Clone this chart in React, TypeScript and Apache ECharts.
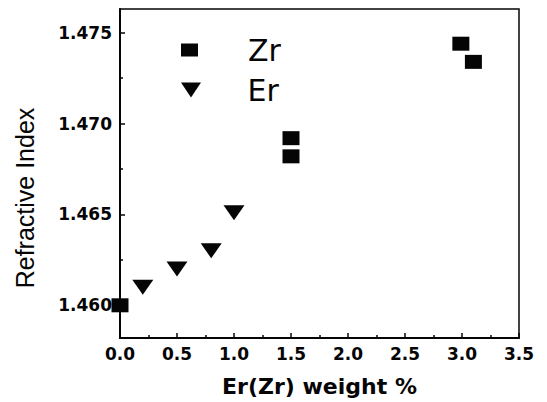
import React, { useEffect, useRef } from "react";
import * as echarts from "echarts";

const zrData: number[][] = [
  [0.0, 1.46],
  [1.5, 1.4692],
  [1.5, 1.4682],
  [2.99, 1.4744],
  [3.1, 1.4734],
];
const erData: number[][] = [
  [0.2, 1.461],
  [0.5, 1.462],
  [0.8, 1.463],
  [1.0, 1.4651],
];
const yMajorTicks = [1.46, 1.465, 1.47, 1.475];
const yMinorTicks = [1.4625, 1.4675, 1.4725];
const seriesNames = ["Zr", "Er"];
const xName = "Er(Zr) weight %";
const yName = "Refractive Index";

const TRI = "path://M0,0L20,0L10,15Z";

export default function App() {
  const ref = useRef<HTMLDivElement>(null);
  useEffect(() => {
    if (!ref.current) return;
    const chart = echarts.init(ref.current, null, { renderer: "svg" });
    const ink = "#050505";
    const tickFont = { fontFamily: "DejaVu Sans", fontWeight: "bold" as const, fontSize: 17, color: ink };
    chart.setOption({
      animation: false,
      backgroundColor: "#fff",
      grid: {
        left: 120,
        right: 28,
        top: 9,
        bottom: 61,
        show: true,
        borderColor: ink,
        borderWidth: 1.5,
        backgroundColor: "transparent",
      },
      legend: [
        {
          data: [seriesNames[0]],
          left: 181,
          top: 35,
          padding: 0,
          itemWidth: 17,
          itemHeight: 13,
          textStyle: { fontFamily: "DejaVu Sans", fontSize: 30, color: ink, padding: [0, 0, 0, 45] },
        },
        {
          data: [seriesNames[1]],
          left: 181,
          top: 75,
          padding: 0,
          itemWidth: 21,
          itemHeight: 15,
          textStyle: { fontFamily: "DejaVu Sans", fontSize: 30, color: ink, padding: [0, 0, 0, 41] },
        },
      ],
      xAxis: {
        type: "value",
        min: 0,
        max: 3.5,
        interval: 0.5,
        name: xName,
        nameLocation: "middle",
        nameGap: 37,
        nameTextStyle: { fontFamily: "DejaVu Sans", fontWeight: "bold", fontSize: 22, color: ink },
        axisLine: { show: true, lineStyle: { color: ink, width: 2 } },
        axisTick: { show: true, inside: true, length: 5, lineStyle: { color: ink, width: 1.5 } },
        minorTick: { show: true, splitNumber: 2, length: 3, lineStyle: { color: ink, width: 1.5 } },
        axisLabel: {
          ...tickFont,
          margin: 7,
          formatter: (v: number) => v.toFixed(1),
        },
        splitLine: { show: false },
      },
      yAxis: [
        {
          type: "value",
          min: 1.4582,
          max: 1.47631,
          axisLine: { show: true, lineStyle: { color: ink, width: 2 } },
          axisTick: {
            show: true,
            inside: true,
            length: 5,
            customValues: yMajorTicks,
            lineStyle: { color: ink, width: 1.5 },
          },
          axisLabel: {
            ...tickFont,
            margin: 8,
            customValues: yMajorTicks,
            formatter: (v: number) => v.toFixed(3),
          },
          splitLine: { show: false },
        },
        {
          type: "value",
          min: 1.4582,
          max: 1.47631,
          position: "left",
          axisLine: { show: false },
          axisTick: {
            show: true,
            inside: true,
            length: 3,
            customValues: yMinorTicks,
            lineStyle: { color: ink, width: 1.5 },
          },
          axisLabel: { show: false },
          splitLine: { show: false },
        },
      ],
      graphic: [
        {
          type: "text",
          x: 25,
          y: 198,
          rotation: Math.PI / 2,
          style: {
            text: yName,
            fontFamily: "Liberation Sans",
            fontSize: 25,
            fill: ink,
            align: "center",
            verticalAlign: "middle",
          },
        },
      ],
      series: [
        {
          name: seriesNames[0],
          type: "scatter",
          data: zrData,
          symbol: "rect",
          symbolSize: [17, 14],
          clip: false,
          itemStyle: { color: ink, opacity: 1 },
          z: 5,
        },
        {
          name: seriesNames[1],
          type: "scatter",
          data: erData,
          symbol: TRI,
          symbolSize: [21, 15],
          clip: false,
          itemStyle: { color: ink, opacity: 1 },
          z: 5,
        },
      ],
    });
    return () => chart.dispose();
  }, []);
  return <div ref={ref} style={{ width: 547, height: 402, position: "absolute", left: 0, top: 0 }} />;
}
